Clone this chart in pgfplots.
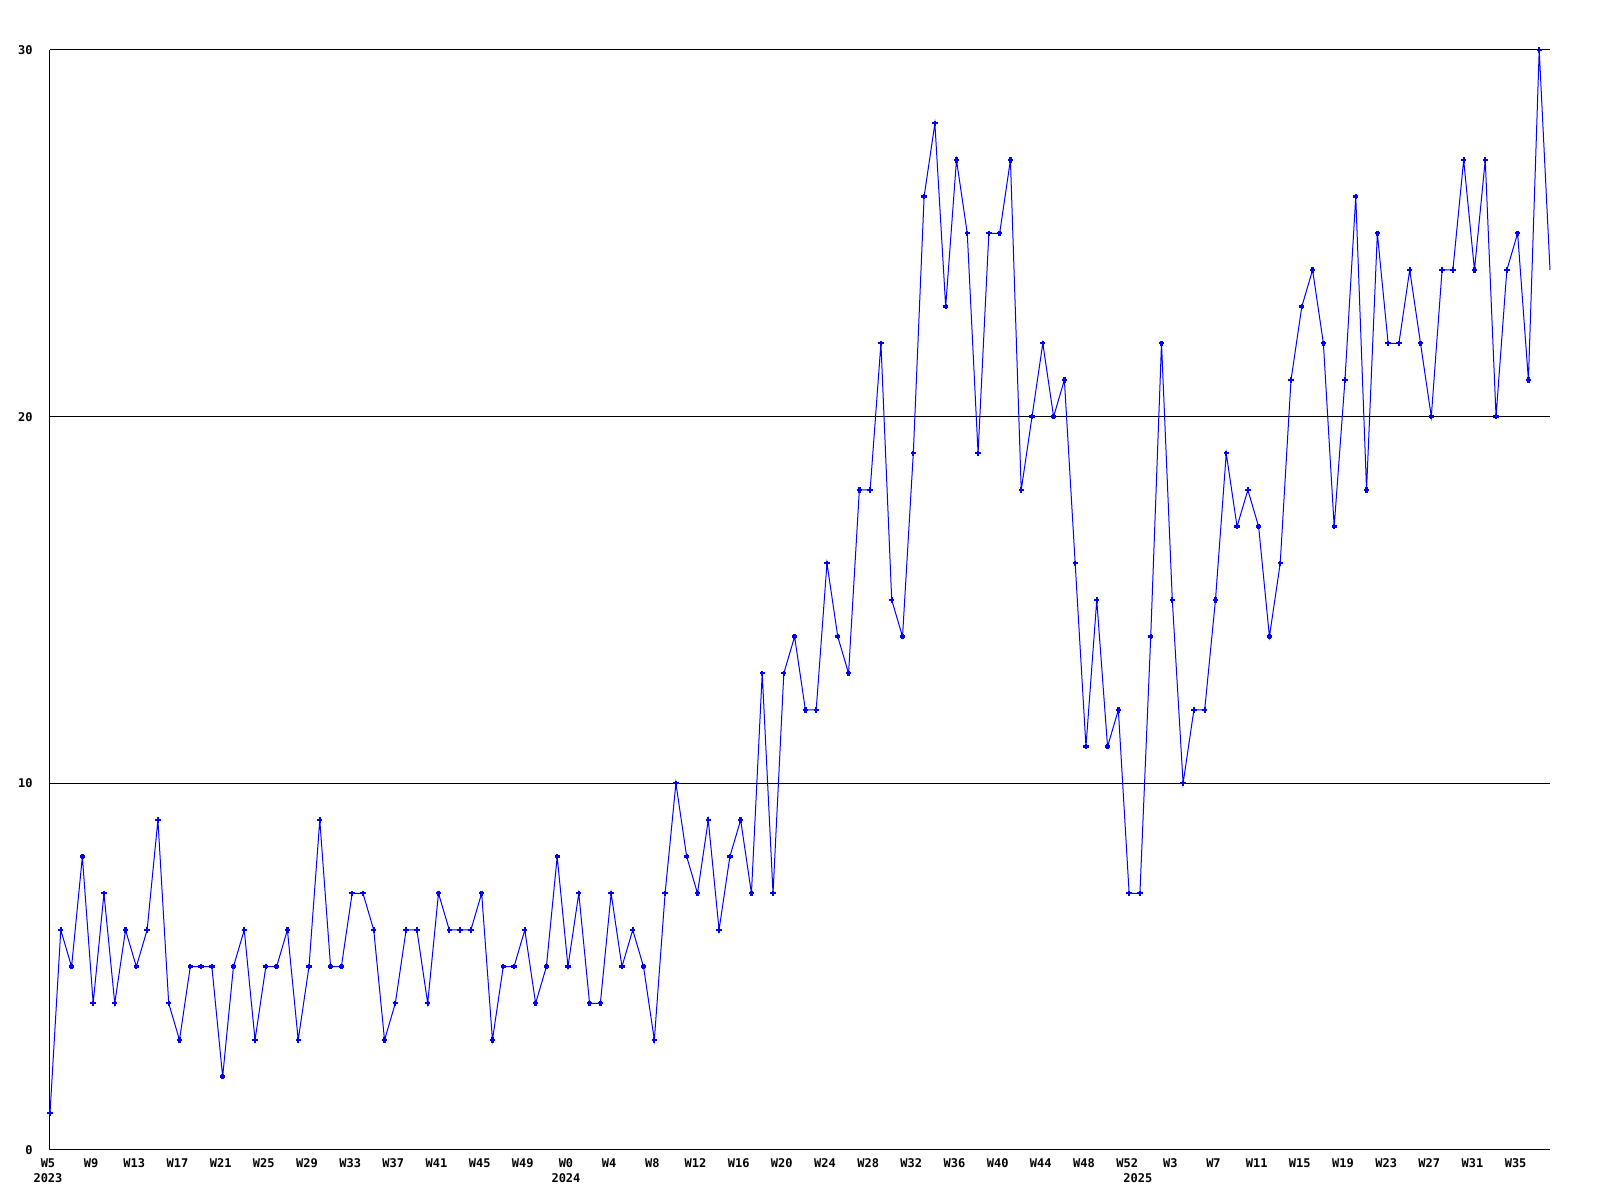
\documentclass[border=0pt]{standalone}
\usepackage{fontspec}
\setmainfont{DejaVu Sans Mono}
\usepackage{pgfplots}
\pgfplotsset{compat=1.18}

% weekly counts, index 0 = 2023 W5 ... index 139 = 2025 W38
\pgfplotstableread{
i  n
0 1
1 6
2 5
3 8
4 4
5 7
6 4
7 6
8 5
9 6
10 9
11 4
12 3
13 5
14 5
15 5
16 2
17 5
18 6
19 3
20 5
21 5
22 6
23 3
24 5
25 9
26 5
27 5
28 7
29 7
30 6
31 3
32 4
33 6
34 6
35 4
36 7
37 6
38 6
39 6
40 7
41 3
42 5
43 5
44 6
45 4
46 5
47 8
48 5
49 7
50 4
51 4
52 7
53 5
54 6
55 5
56 3
57 7
58 10
59 8
60 7
61 9
62 6
63 8
64 9
65 7
66 13
67 7
68 13
69 14
70 12
71 12
72 16
73 14
74 13
75 18
76 18
77 22
78 15
79 14
80 19
81 26
82 28
83 23
84 27
85 25
86 19
87 25
88 25
89 27
90 18
91 20
92 22
93 20
94 21
95 16
96 11
97 15
98 11
99 12
100 7
101 7
102 14
103 22
104 15
105 10
106 12
107 12
108 15
109 19
110 17
111 18
112 17
113 14
114 16
115 21
116 23
117 24
118 22
119 17
120 21
121 26
122 18
123 25
124 22
125 22
126 24
127 22
128 20
129 24
130 24
131 27
132 24
133 27
134 20
135 24
136 25
137 21
138 30
139 24
}\weekly

\begin{document}
\begin{tikzpicture}
\begin{axis}[
  scale only axis, width=450pt, height=330pt,
  xmin=0, xmax=139, ymin=0, ymax=30,
  axis x line*=bottom, axis y line*=left,
  axis line style={-, black, line width=0.3pt},
  major tick length=0pt,
  ytick={0,10,20,30},
  ymajorgrids, major grid style={black, line width=0.3pt},
  xtick={0,4,...,136},
  xticklabels={W5,W9,W13,W17,W21,W25,W29,W33,W37,W41,W45,W49,W0,W4,W8,W12,W16,W20,W24,W28,W32,W36,W40,W44,W48,W52,W3,W7,W11,W15,W19,W23,W27,W31,W35},
  extra x ticks={0,48,101},
  extra x tick labels={2023,2024,2025},
  extra x tick style={grid=none, xticklabel style={yshift=-4.5pt}},
  tick label style={font=\fontsize{3.6}{4}\selectfont\bfseries, inner sep=0pt},
  xticklabel style={anchor=north, yshift=-2.4pt, xshift=-0.6pt},
  yticklabel style={anchor=east, xshift=-5pt},
  /pgf/number format/assume math mode=true,
  clip=false,
]
\addplot[color={rgb,255:red,0;green,0;blue,255}, line width=0.3pt,
  mark=+, mark size=0.8pt, mark indices={1,...,139},
  mark options={line width=0.7pt}] table[x=i, y=n] {\weekly};
\coordinate (ll) at (rel axis cs:0,0);
\coordinate (ur) at (rel axis cs:1,1);
\end{axis}
\path ([shift={(-15pt,-15pt)}]ll) rectangle ([shift={(15pt,15pt)}]ur);
\end{tikzpicture}
\end{document}
